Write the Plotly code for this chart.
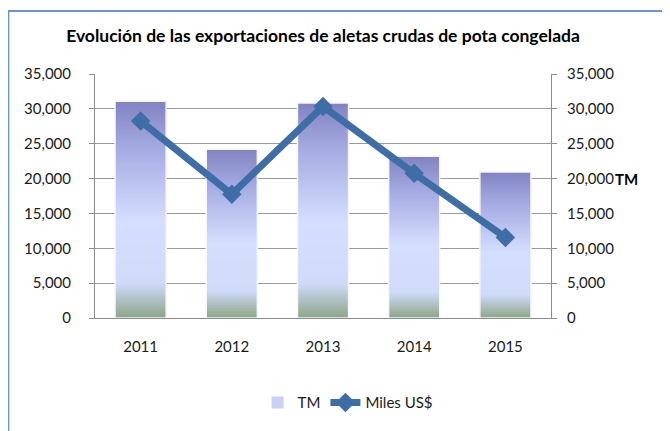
import plotly.graph_objects as go
from plotly.colors import sample_colorscale

years = ["2011", "2012", "2013", "2014", "2015"]
tm_values = [31100, 24200, 30850, 23200, 20950]
miles_usd = [28250, 17750, 30350, 20750, 11550]
y_ticks = [0, 5000, 10000, 15000, 20000, 25000, 30000, 35000]

title_text = "Evolución de las exportaciones de aletas crudas de pota congelada"
FONT = "Lato"

bar_scale = [
    [0.0, "#8ca585"],
    [0.06, "#a6b9b2"],
    [0.16, "#cfdbf8"],
    [0.45, "#d4dfff"],
    [0.6, "#bfc7f2"],
    [0.8, "#a2a8e0"],
    [1.0, "#8282c2"],
]

BAR_W = 0.56
N = 120
fig = go.Figure()

# legend / base bar
fig.add_trace(go.Bar(
    x=years, y=tm_values, name="TM", width=BAR_W,
    marker=dict(color="#c9d1f7", line=dict(width=0)),
    hoverinfo="skip",
))

slice_colors = sample_colorscale(bar_scale, [(k + 0.5) / N for k in range(N)])
for k in range(N):
    fig.add_trace(go.Bar(
        x=years,
        y=[3 * v / N if k < N - 2 else (N - k) * v / N for v in tm_values],
        base=[v * k / N for v in tm_values],
        width=BAR_W, showlegend=False, hoverinfo="skip",
        marker=dict(color=slice_colors[k], line=dict(width=0), opacity=1),
    ))

# white outline
fig.add_trace(go.Bar(
    x=years, y=tm_values, width=BAR_W, showlegend=False, hoverinfo="skip",
    marker=dict(color="rgba(0,0,0,0)", line=dict(color="#f4f6fb", width=1.5)),
))

fig.add_trace(go.Scatter(
    x=years, y=miles_usd, name="Miles US$", yaxis="y2",
    mode="lines+markers",
    line=dict(color="#3f6ea6", width=7),
    marker=dict(symbol="diamond", size=15, color="#3f6ea6"),
))

axis_font = dict(family=FONT, size=15, color="#1a1a1a")
fig.update_layout(
    width=662, height=423,
    margin=dict(l=87, r=119, t=66, b=109),
    paper_bgcolor="white", plot_bgcolor="white",
    barmode="overlay",
    font=dict(family=FONT, size=15, color="#1a1a1a"),
    title=dict(text="<b>" + title_text + "</b>", x=0.5, xref="paper", xanchor="center",
               y=1 - 28 / 423, yref="container", yanchor="middle",
               font=dict(family=FONT, size=17.5, color="#000000")),
    xaxis=dict(type="category", showgrid=False, showline=True, linecolor="#8c8c8c",
               linewidth=1, ticks="", tickfont=axis_font, ticklabelstandoff=15),
    yaxis=dict(range=[0, 35000], tickvals=y_ticks, tickformat=",", showgrid=True,
               gridcolor="#9a9a9a", gridwidth=1, showline=True, linecolor="#8c8c8c",
               ticks="outside", ticklen=5, tickcolor="#8c8c8c", tickfont=axis_font,
               ticklabelstandoff=15, zeroline=False),
    yaxis2=dict(range=[0, 35000], tickvals=y_ticks, tickformat=",", overlaying="y",
                side="right", showgrid=False, showline=True, linecolor="#8c8c8c",
                ticks="outside", ticklen=5, tickcolor="#8c8c8c", tickfont=axis_font,
                ticklabelstandoff=7, zeroline=False),
    legend=dict(orientation="h", x=0.554, xanchor="center", y=-0.347, yanchor="middle",
                font=dict(family=FONT, size=15, color="#1a1a1a"), bgcolor="rgba(0,0,0,0)"),
    shapes=[dict(type="rect", xref="paper", yref="paper", x0=-0.19, x1=1.35,
                 y0=-0.6, y1=1.258, line=dict(color="#6a96d0", width=2),
                 fillcolor="rgba(0,0,0,0)", layer="below")],
    annotations=[dict(text="<b>TM</b>", xref="paper", yref="y2", x=1, y=20000,
                      xanchor="left", yanchor="middle", xshift=62, showarrow=False,
                      font=dict(family=FONT, size=15, color="#000000"))],
)

fig.write_html("out.html")
